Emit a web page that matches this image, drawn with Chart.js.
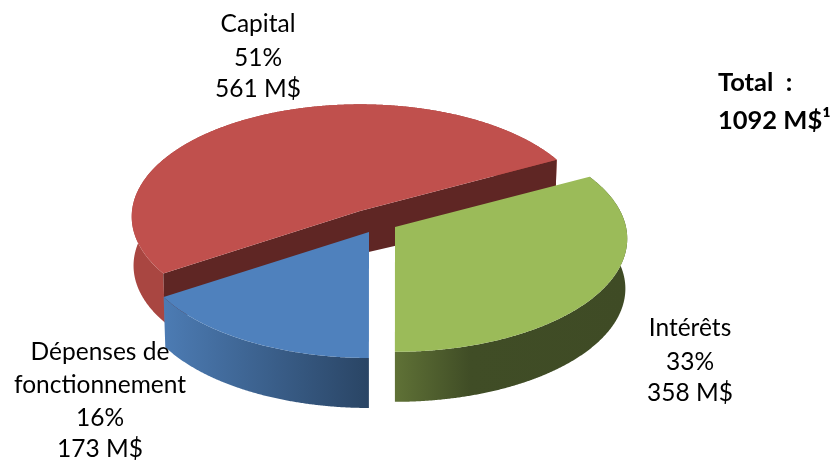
<!DOCTYPE html>
<html>
<head>
<meta charset="utf-8">
<style>html,body{margin:0;padding:0;background:#fff}canvas{display:block}</style>
<script src="https://cdn.jsdelivr.net/npm/chart.js@4"></script>
</head>
<body>
<canvas id="c" width="835" height="460"></canvas>
<script>
const categories = ["Intérêts", "Dépenses de fonctionnement", "Capital"];
const amounts = [358, 173, 561];
const percents = ["33%", "16%", "51%"];
const amountLabels = ["358 M$", "173 M$", "561 M$"];
const totalLines = ["Total  :", "1092 M$¹"];
const topColors = ["#9BBB59", "#4F81BD", "#C0504D"];
const startAngleDeg = 62;

// 3D look: each slice is exploded, and projected with a slight perspective
const looks = [
  {cx:395, cy:227, rx:231, ry:112, k:0.103, depth:50, side:[[396,"#5F7136"],[470,"#404D26"],[627,"#3F4B25"]]},
  {cx:369, cy:232, rx:231, ry:113, k:0.103, depth:50, side:[[165,"#4C7BB3"],[368,"#2A4565"]]},
  {cx:360, cy:211, rx:228, ry:112, k:0.05, depth:49, apexDepth:43, wall:"#5F2624", side:[[133,"#A94641"],[170,"#A94641"]]}
];
const drawOrder = [2, 1, 0];
const textItems = [
  {x:690, ys:[336,370,401], lines:[categories[0], percents[0], amountLabels[0]]},
  {x:100, ys:[360,393,426,457], lines:["Dépenses de","fonctionnement", percents[1], amountLabels[1]]},
  {x:258, ys:[32,66,97], lines:[categories[2], percents[2], amountLabels[2]]}
];

function proj(l, a, r, d) {
  const u = r*Math.cos(a), v = r*Math.sin(a), w = 1 - l.k*v;
  const sc = d ? 0.992 : 1;
  return [l.cx + sc*l.rx*u/w, l.cy + l.ry*v/w + d];
}
function poly(ctx, pts, fill) {
  ctx.beginPath();
  pts.forEach((p,i)=> i ? ctx.lineTo(p[0],p[1]) : ctx.moveTo(p[0],p[1]));
  ctx.closePath();
  ctx.fillStyle = fill;
  ctx.fill();
}
const pie3d = {
  id:"pie3d",
  beforeDatasetsDraw(chart) {
    const ctx = chart.ctx, arcs = chart.getDatasetMeta(0).data;
    drawOrder.forEach(i => {
      const l = looks[i], e = arcs[i], s = e.startAngle, t = e.endAngle;
      const n = Math.ceil((t-s)/0.005), top = [], bot = [];
      for (let k=0;k<=n;k++){ const a = s+(t-s)*k/n; top.push(proj(l,a,1,0)); bot.push(proj(l,a,1,l.depth)); }
      const g = ctx.createLinearGradient(l.side[0][0],0,l.side[l.side.length-1][0],0);
      const span = l.side[l.side.length-1][0]-l.side[0][0];
      l.side.forEach(c => g.addColorStop((c[0]-l.side[0][0])/span, c[1]));
      poly(ctx, top.concat(bot.slice().reverse()), g);
      const apex = [l.cx,l.cy];
      if (l.wall) {
        const apexB = [l.cx,l.cy+l.apexDepth];
        poly(ctx, [apex, top[0], bot[0], apexB], l.wall);
        poly(ctx, [apex, top[n], bot[n], apexB], l.wall);
      }
      poly(ctx, [apex].concat(top), topColors[i]);
    });
    return false;
  },
  afterDraw(chart) {
    const ctx = chart.ctx;
    ctx.fillStyle = "#000";
    ctx.textBaseline = "alphabetic";
    ctx.font = '24.5px Lato';
    ctx.textAlign = "center";
    textItems.forEach(t => t.lines.forEach((s,i)=>ctx.fillText(s,t.x,t.ys[i])));
    ctx.font = 'bold 25.5px Lato';
    ctx.textAlign = "left";
    ctx.fillText(totalLines[0],718,91);
    ctx.fillText(totalLines[1],718,129);
  }
};
new Chart(document.getElementById("c"), {
  type:"pie",
  data:{labels:categories, datasets:[{data:amounts, backgroundColor:topColors, borderWidth:0}]},
  options:{responsive:false, animation:false, rotation:startAngleDeg,
    plugins:{legend:{display:false}, tooltip:{enabled:false}}},
  plugins:[pie3d]
});
</script>
</body>
</html>
